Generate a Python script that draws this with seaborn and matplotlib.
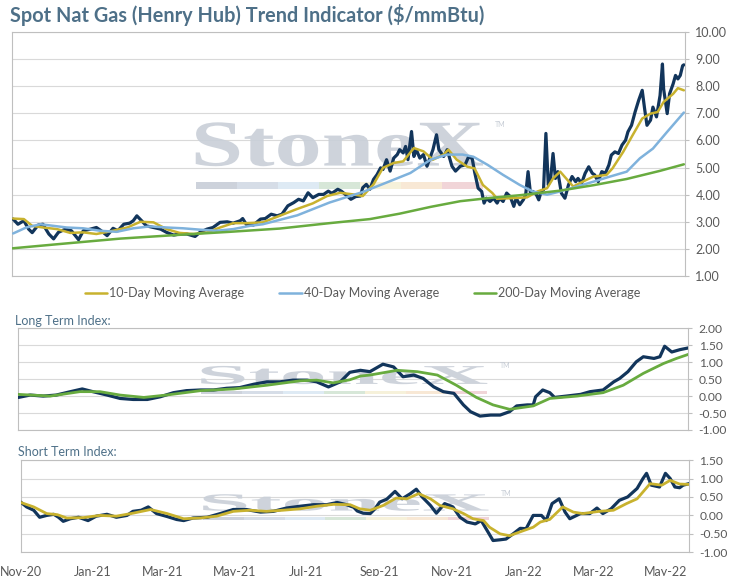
# gas_trend_indicator.py

import pandas as pd
import matplotlib
matplotlib.use("Agg")
import matplotlib.pyplot as plt
import matplotlib.dates as mdates
import matplotlib.transforms as mtransforms
from matplotlib.textpath import TextPath
from matplotlib.patches import PathPatch, Rectangle
from matplotlib.font_manager import FontProperties
from matplotlib.ticker import FormatStrFormatter
import seaborn as sns

# --- Datos (dias desde 2020-11-01) ---
start = pd.Timestamp("2020-11-01")
end_day = 566

spot_days = [1, 5, 10, 14, 17, 22, 26, 31, 35, 39, 45, 50, 56, 60, 66, 71, 75, 80, 85, 89,
             94, 99, 102, 105, 109, 113, 119, 125, 130, 136, 141, 147, 154, 158, 164, 169, 175, 181, 186, 192,
             194, 197, 203, 209, 213, 218, 223, 227, 232, 237, 241, 245, 249, 253, 258, 262, 266, 269, 274, 277,
             282, 285, 289, 293, 295, 298, 301, 304, 307, 310, 312, 315, 318, 321, 324, 326, 329, 331, 333, 336,
             338, 340, 343, 346, 349, 352, 354, 357, 359, 363, 366, 370, 373, 377, 381, 384, 387, 389, 392, 395,
             397, 399, 402, 405, 408, 410, 413, 416, 419, 422, 424, 427, 430, 432, 434, 436, 438, 441, 443, 445,
             447, 449, 451, 453, 455, 457, 459, 462, 465, 468, 471, 474, 476, 479, 482, 485, 488, 490, 493, 496,
             499, 502, 504, 507, 510, 513, 516, 518, 521, 524, 527, 530, 532, 534, 537, 539, 542, 545, 547, 548,
             551, 553, 556, 558, 560, 562, 564, 565]
spot = [3.10, 2.91, 3.04, 2.73, 2.60, 2.88, 2.91, 2.55, 2.37, 2.61, 2.73, 2.67, 2.34, 2.67, 2.73, 2.79, 2.67, 2.49, 2.76, 2.67,
        2.91, 2.95, 3.04, 3.22, 3.04, 2.85, 2.79, 2.73, 2.61, 2.51, 2.55, 2.55, 2.46, 2.61, 2.73, 2.79, 2.98, 3.00, 2.95, 3.04,
        3.12, 2.91, 2.88, 3.10, 3.12, 3.28, 3.22, 3.28, 3.59, 3.71, 3.83, 3.77, 4.07, 3.89, 4.01, 4.01, 4.13, 4.05, 4.20, 4.13,
        3.95, 3.83, 3.93, 3.95, 4.26, 4.38, 4.20, 4.56, 4.74, 4.99, 4.93, 5.29, 4.87, 5.35, 5.48, 5.66, 5.54, 5.78, 5.29, 6.33,
        5.41, 5.66, 5.35, 5.48, 5.05, 5.41, 5.66, 6.21, 5.66, 5.41, 5.66, 5.05, 4.87, 5.05, 5.10, 5.40, 5.34, 4.85, 4.24, 4.12,
        3.69, 3.87, 3.75, 3.87, 3.69, 3.87, 3.75, 4.06, 3.93, 3.57, 3.87, 3.63, 3.81, 4.00, 4.85, 4.06, 4.12, 4.00, 3.81, 4.12,
        4.18, 6.26, 4.36, 4.60, 5.52, 4.60, 4.85, 4.06, 3.87, 4.36, 4.67, 4.48, 4.60, 4.42, 4.79, 5.03, 4.79, 4.73, 4.48, 4.85,
        4.79, 5.10, 5.46, 5.58, 5.52, 5.83, 6.01, 6.32, 6.56, 7.05, 7.48, 7.85, 7.17, 6.56, 6.75, 7.23, 6.87, 7.66, 8.82, 7.90,
        6.99, 7.72, 8.09, 8.40, 8.27, 8.40, 8.76, 8.79]

ma10_days = [1, 10, 17, 26, 38, 49, 60, 71, 85, 97, 108, 119, 130, 141, 153, 164, 175, 186, 197, 211,
             225, 239, 253, 265, 276, 287, 295, 304, 312, 321, 329, 338, 346, 354, 363, 367, 374, 383, 389, 396,
             404, 408, 419, 433, 442, 450, 455, 461, 467, 472, 480, 489, 500, 505, 514, 522, 530, 537, 543, 548,
             556, 560, 565]
ma10 = [3.12, 3.10, 2.85, 2.79, 2.73, 2.59, 2.61, 2.55, 2.67, 2.79, 3.00, 2.98, 2.73, 2.59, 2.55, 2.61, 2.79, 2.95, 2.95, 2.98,
        3.22, 3.46, 3.68, 3.95, 4.07, 4.01, 3.95, 4.38, 4.99, 5.17, 5.23, 5.72, 5.60, 5.29, 5.48, 5.66, 5.29, 5.03, 4.97, 4.36,
        4.06, 3.85, 3.87, 3.90, 4.12, 4.24, 4.60, 4.85, 4.55, 4.30, 4.48, 4.67, 4.73, 4.97, 5.58, 6.20, 6.81, 6.99, 7.05, 7.42,
        7.72, 7.93, 7.85]

ma40_days = [1, 12, 24, 35, 46, 60, 74, 88, 102, 116, 130, 144, 158, 172, 186, 200, 211, 240, 267, 295,
             318, 335, 352, 366, 379, 388, 400, 413, 427, 438, 450, 461, 475, 489, 503, 517, 528, 539, 551, 565]
ma40 = [2.57, 2.79, 2.91, 2.85, 2.79, 2.76, 2.67, 2.63, 2.76, 2.83, 2.79, 2.76, 2.71, 2.67, 2.73, 2.85, 2.91, 3.24, 3.71, 4.10,
        4.50, 4.80, 5.29, 5.48, 5.48, 5.40, 5.10, 4.73, 4.36, 4.12, 4.00, 4.12, 4.30, 4.48, 4.67, 4.85, 5.34, 5.70, 6.32, 7.03]

ma200_days = [0, 40, 91, 141, 183, 225, 267, 301, 326, 352, 377, 402, 427, 461, 489, 517, 545, 565]
ma200 = [2.02, 2.18, 2.38, 2.52, 2.63, 2.75, 2.95, 3.10, 3.30, 3.55, 3.76, 3.88, 3.98, 4.15, 4.35, 4.58, 4.88, 5.12]

lt_days = [0, 10, 21, 32, 44, 54, 63, 75, 86, 97, 109, 120, 131, 142, 154, 165, 176, 187, 199, 210,
           221, 232, 244, 252, 262, 272, 280, 289, 297, 308, 317, 325, 334, 342, 351, 359, 368, 376, 382, 390,
           399, 407, 415, 421, 430, 435, 437, 443, 449, 453, 463, 475, 483, 494, 503, 508, 515, 522, 528, 537,
           542, 546, 552, 559, 566]
lt_index = [-0.04, 0.03, 0.00, 0.03, 0.13, 0.21, 0.13, 0.03, -0.07, -0.10, -0.10, -0.02, 0.10, 0.16, 0.18, 0.18, 0.23, 0.25, 0.35, 0.42,
            0.42, 0.47, 0.47, 0.42, 0.27, 0.42, 0.70, 0.76, 0.72, 0.94, 0.86, 0.57, 0.62, 0.52, 0.27, 0.13, 0.08, -0.26, -0.46, -0.59,
            -0.56, -0.56, -0.46, -0.29, -0.26, -0.26, -0.02, 0.18, 0.10, -0.04, 0.00, 0.05, 0.13, 0.18, 0.42, 0.52, 0.72, 1.01, 1.16, 1.11,
            1.16, 1.47, 1.30, 1.37, 1.42]

lt_days_ma = [0, 27, 52, 69, 86, 106, 125, 154, 182, 210, 238, 252, 266, 280, 289, 297, 320, 337, 354, 370,
              387, 401, 415, 435, 449, 472, 494, 511, 528, 545, 556, 566]
lt_ma = [0.05, 0.00, 0.13, 0.13, 0.03, -0.04, 0.03, 0.16, 0.21, 0.32, 0.45, 0.47, 0.39, 0.48, 0.59, 0.62, 0.76, 0.72, 0.62, 0.32,
         -0.04, -0.26, -0.39, -0.29, -0.07, 0.00, 0.10, 0.32, 0.67, 0.96, 1.11, 1.23]

st_days = [0, 5, 11, 16, 22, 28, 32, 36, 42, 49, 57, 64, 73, 81, 90, 95, 102, 108, 115, 124,
           132, 138, 146, 158, 169, 180, 191, 203, 214, 225, 237, 248, 259, 268, 276, 282, 285, 290, 296, 300,
           304, 310, 317, 323, 330, 335, 340, 347, 352, 359, 366, 372, 378, 385, 390, 395, 400, 406, 411, 417,
           423, 428, 434, 441, 445, 450, 456, 461, 465, 474, 482, 488, 493, 500, 507, 514, 522, 527, 530, 534,
           541, 546, 550, 554, 558, 561, 566]
st_index = [0.36, 0.23, 0.14, -0.05, 0.00, 0.03, -0.05, -0.16, -0.09, -0.05, -0.14, -0.02, 0.03, -0.05, 0.00, 0.11, 0.14, 0.23, 0.05, -0.03,
            -0.11, -0.14, -0.07, -0.05, 0.05, 0.16, 0.16, 0.09, 0.11, 0.20, 0.25, 0.29, 0.29, 0.35, 0.29, 0.22, 0.12, 0.06, 0.05, 0.18,
            0.36, 0.44, 0.65, 0.45, 0.59, 0.71, 0.50, 0.27, 0.06, 0.32, 0.23, -0.05, -0.18, -0.23, -0.14, -0.41, -0.68, -0.66, -0.64, -0.50,
            -0.35, -0.36, 0.00, 0.00, -0.14, 0.32, 0.45, 0.09, -0.09, 0.05, 0.05, 0.20, 0.05, 0.18, 0.41, 0.50, 0.73, 1.00, 1.14, 0.82,
            0.77, 1.14, 1.00, 0.77, 0.75, 0.82, 0.86]

st_days_ma = [0, 11, 22, 31, 39, 53, 67, 81, 95, 110, 124, 138, 152, 166, 180, 194, 208, 222, 237, 251,
              265, 279, 287, 296, 307, 318, 327, 337, 347, 355, 366, 375, 383, 392, 397, 406, 414, 426, 434, 440,
              448, 459, 468, 476, 490, 502, 513, 522, 533, 543, 550, 558, 566]
st_ma = [0.35, 0.23, 0.05, 0.02, -0.07, -0.06, 0.00, -0.02, 0.06, 0.16, 0.05, -0.09, -0.07, -0.02, 0.11, 0.14, 0.11, 0.14, 0.18, 0.25,
         0.30, 0.29, 0.18, 0.14, 0.27, 0.47, 0.45, 0.59, 0.45, 0.27, 0.18, 0.05, -0.09, -0.14, -0.32, -0.50, -0.55, -0.41, -0.32, -0.18,
         -0.11, 0.23, 0.09, 0.05, 0.11, 0.14, 0.32, 0.45, 0.86, 0.82, 0.95, 0.85, 0.84]

titulo = "Spot Nat Gas (Henry Hub) Trend Indicator ($/mmBtu)"
leyendas = ["10-Day Moving Average", "40-Day Moving Average", "200-Day Moving Average"]


def fechas(dias):
    return start + pd.to_timedelta(dias, unit="D")


# --- Estilo ---
sns.set_style("white")
plt.rcParams["font.family"] = ["Lato", "DejaVu Sans"]
plt.rcParams["axes.unicode_minus"] = False

NAVY = "#12355b"
GOLD = "#c8b22e"
BLUE = "#7fb2dc"
GREEN = "#68ab3f"
GRIS = "#595959"
TITULO = "#4e7088"

fig = plt.figure(figsize=(7.3, 5.76), dpi=100)
ax1 = fig.add_axes([0.0164, 0.5208, 0.922, 0.4236])
ax2 = fig.add_axes([0.0251, 0.2535, 0.9178, 0.1766])
ax3 = fig.add_axes([0.0284, 0.0411, 0.9155, 0.1602])


def marca_agua(ax):
    # logo StoneX de fondo
    tp = TextPath((0, 0), "StoneX", size=1, prop=FontProperties(family="Liberation Serif", weight="bold"))
    ext = tp.get_extents()
    x0, x1, y0, y1 = 0.273, 0.70, 0.45, 0.63
    tr = (mtransforms.Affine2D().translate(-ext.x0, -ext.y0)
          .scale((x1 - x0) / ext.width, (y1 - y0) / ext.height).translate(x0, y0))
    ax.add_patch(PathPatch(tr.transform_path(tp), transform=ax.transAxes,
                           fc="#c9cfd8", ec="none", alpha=0.9, zorder=0.8))
    colores = ["#cdd2db", "#d6dde7", "#deeaf4", "#d7e7d8", "#f6f1da", "#f8e8d5", "#f1d5d8"]
    w = (x1 - x0) / len(colores)
    for i, c in enumerate(colores):
        ax.add_patch(Rectangle((x0 + i * w, 0.355), w, 0.032, transform=ax.transAxes,
                               fc=c, ec="none", zorder=0.8))
    ax.text(0.718, 0.61, "TM", transform=ax.transAxes, fontsize=5, color="#c6ccd5", zorder=0.8)


def estilo(ax, ymin, ymax, paso, tam=9):
    ax.set_ylim(ymin, ymax)
    ax.set_xlim(start, fechas(end_day))
    ax.set_yticks([ymin + i * paso for i in range(int(round((ymax - ymin) / paso)) + 1)])
    ax.yaxis.set_major_formatter(FormatStrFormatter("%.2f"))
    ax.yaxis.tick_right()
    ax.grid(axis="y", color="#d9d9d9", linewidth=0.8, zorder=0)
    ax.grid(axis="x", visible=False)
    ax.set_axisbelow(True)
    for s in ax.spines.values():
        s.set_color("#bfbfbf")
        s.set_linewidth(0.8)
    ax.tick_params(axis="y", right=True, length=3, width=0.8, color="#bfbfbf",
                   pad=4.5, labelsize=tam, labelcolor=GRIS)
    ax.xaxis.set_major_locator(mdates.MonthLocator(bymonth=[1, 3, 5, 7, 9, 11]))
    ax.xaxis.set_major_formatter(mdates.DateFormatter("%b-%y"))
    ax.tick_params(axis="x", bottom=False, labelbottom=False, labelsize=9, labelcolor=GRIS)
    ax.set_xlabel("")
    ax.set_ylabel("")
    marca_agua(ax)


# --- Panel superior: precio spot y medias moviles ---
sns.lineplot(x=fechas(spot_days), y=spot, ax=ax1, color=NAVY, linewidth=2.3, zorder=3)
sns.lineplot(x=fechas(ma10_days), y=ma10, ax=ax1, color=GOLD, linewidth=1.8, label=leyendas[0], zorder=4)
sns.lineplot(x=fechas(ma40_days), y=ma40, ax=ax1, color=BLUE, linewidth=1.8, label=leyendas[1], zorder=4)
sns.lineplot(x=fechas(ma200_days), y=ma200, ax=ax1, color=GREEN, linewidth=1.8, label=leyendas[2], zorder=4)
estilo(ax1, 1, 10, 1)
handles, labels = ax1.get_legend_handles_labels()
ax1.get_legend().remove()
fig.legend(handles, labels, loc="center", bbox_to_anchor=(0.497, 0.491), ncol=3, frameon=False,
           fontsize=9, labelcolor=GRIS, handlelength=1.8, handletextpad=0.15, columnspacing=2.8)

# --- Indice de largo plazo ---
sns.lineplot(x=fechas(lt_days), y=lt_index, ax=ax2, color=NAVY, linewidth=2.3, zorder=3)
sns.lineplot(x=fechas(lt_days_ma), y=lt_ma, ax=ax2, color=GREEN, linewidth=2.0, zorder=4)
estilo(ax2, -1, 2, 0.5, tam=8.7)

# --- Indice de corto plazo ---
sns.lineplot(x=fechas(st_days), y=st_index, ax=ax3, color=NAVY, linewidth=2.3, zorder=3)
sns.lineplot(x=fechas(st_days_ma), y=st_ma, ax=ax3, color=GOLD, linewidth=2.0, zorder=4)
estilo(ax3, -1, 1.5, 0.5, tam=8.7)
ax3.tick_params(axis="x", labelbottom=True, pad=6)

# --- Textos ---
fig.text(0.0137, 0.974, titulo, ha="left", va="center", fontsize=14.3, fontweight="bold", color=TITULO)
fig.text(0.021, 0.443, "Long Term Index:", ha="left", va="center", fontsize=9, color=TITULO)
fig.text(0.024, 0.2147, "Short Term Index:", ha="left", va="center", fontsize=9, color=TITULO)

fig.savefig("out.png", dpi=100)
